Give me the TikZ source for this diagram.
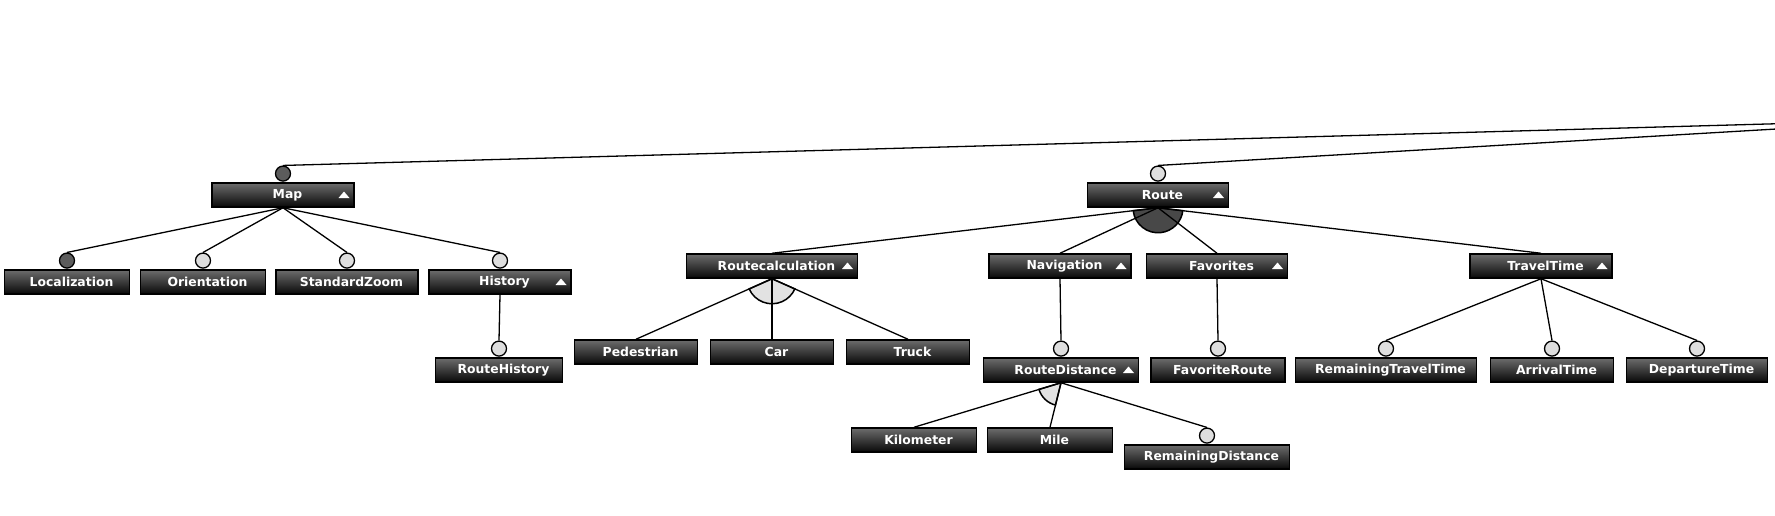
\documentclass[tikz,border=0pt]{standalone}
\usepackage{fontspec}
\setsansfont{DejaVu Sans}
\usepackage{tikz}
\usetikzlibrary{positioning,calc}
\definecolor{fmTop} {RGB}{108,108,108}
\definecolor{fmBot} {RGB}{  8,  8,  8}
\definecolor{fmMand}{RGB}{ 92, 92, 92}
\definecolor{fmOpt} {RGB}{222,222,222}
\definecolor{fmOr}  {RGB}{ 72, 72, 72}
\definecolor{fmAlt} {RGB}{226,226,226}

\begin{document}
\begin{tikzpicture}[x=1pt,y=1pt,
  every node/.style={font=\sffamily\bfseries\fontsize{12.4}{14}\selectfont},
  feat/.style={draw=black,line width=1.5pt,top color=fmTop,bottom color=fmBot,text=white,
               minimum width=125pt,minimum height=24pt,inner sep=0pt,
               execute at begin node={\hspace*{9pt}}},
  grp/.style={feat,path picture={\fill[white]
               ([xshift=-15.5pt,yshift=-3pt]path picture bounding box.east)
               -- ++(11pt,0) -- ++(-5.5pt,6.5pt) -- cycle;}},
  mand/.style={circle,draw=black,line width=1.3pt,fill=fmMand,minimum size=15pt,
               inner sep=0pt,above=0.5pt of #1},
  opt/.style={mand=#1,fill=fmOpt},
  link/.style={line width=1.3pt}
]
\useasboundingbox (0,0) rectangle (1775,-515);
\clip (0,0) rectangle (1775,-515);
\coordinate (root) at (1946,-119);
% Map branch
\node[grp,minimum width=142pt] (Map) at (283,-195) {Map};
\node[feat] (Loc) at (67,-282) {Localization};
\node[feat] (Ori) at (203,-282) {Orientation};
\node[feat,minimum width=142pt] (Zoom) at (347,-282) {StandardZoom};
\node[grp,minimum width=142pt] (Hist) at (500,-282) {History};
\node[feat,minimum width=127pt] (RHist) at (499,-370) {RouteHistory};
% Route branch
\node[grp,minimum width=141pt] (Route) at (1158,-195) {Route};
\node[grp,minimum width=171pt] (Calc) at (772,-266) {Routecalculation};
\node[feat,minimum width=123pt] (Ped) at (636,-352) {Pedestrian};
\node[feat,minimum width=123pt] (Car) at (772,-352) {Car};
\node[feat,minimum width=123pt] (Truck) at (908,-352) {Truck};
\node[grp,minimum width=142pt] (Nav) at (1060,-266) {Navigation};
\node[grp,minimum width=155pt] (RDist) at (1061,-370) {RouteDistance};
\node[feat] (Km) at (914,-440) {Kilometer};
\node[feat] (Mile) at (1050,-440) {Mile};
\node[feat,minimum width=165pt] (RemDist) at (1207,-457) {RemainingDistance};
\node[grp,minimum width=141pt] (Fav) at (1217,-266) {Favorites};
\node[feat,minimum width=134pt] (FavR) at (1218,-370) {FavoriteRoute};
\node[grp,minimum width=142pt] (Time) at (1541,-266) {TravelTime};
\node[feat,minimum width=181pt] (RemTime) at (1386,-370) {RemainingTravelTime};
\node[feat,minimum width=123pt] (Arr) at (1552,-370) {ArrivalTime};
\node[feat,minimum width=141pt] (Dep) at (1697,-370) {DepartureTime};
% mandatory / optional markers
\node[mand=Map] (MapC) {};
\node[opt=Route] (RouteC) {};
\node[mand=Loc] (LocC) {};
\node[opt=Ori] (OriC) {};
\node[opt=Zoom] (ZoomC) {};
\node[opt=Hist] (HistC) {};
\node[opt=RHist] (RHistC) {};
\node[opt=RDist] (RDistC) {};
\node[opt=RemDist] (RemDistC) {};
\node[opt=FavR] (FavRC) {};
\node[opt=RemTime] (RemTimeC) {};
\node[opt=Arr] (ArrC) {};
\node[opt=Dep] (DepC) {};
% group arcs: or (dark), alternative (light)
\filldraw[fill=fmOr,line width=1.5pt]
  let \p1=($(Calc.north)-(Route.south)$), \p2=($(Time.north)-(Route.south)$),
      \n1={atan2(\y1,\x1)}, \n2={atan2(\y2,\x2)} in
  (Route.south) -- ++(\n1:25pt) arc[start angle=\n1,end angle=\n2,radius=25pt] -- cycle;
\filldraw[fill=fmAlt,line width=1.5pt]
  let \p1=($(Ped.north)-(Calc.south)$), \p2=($(Truck.north)-(Calc.south)$),
      \n1={atan2(\y1,\x1)}, \n2={atan2(\y2,\x2)} in
  (Calc.south) -- ++(\n1:25pt) arc[start angle=\n1,end angle=\n2,radius=25pt] -- cycle;
\filldraw[fill=fmAlt,line width=1.5pt]
  let \p1=($(Km.north)-(RDist.south)$), \p2=($(Mile.north)-(RDist.south)$),
      \n1={atan2(\y1,\x1)}, \n2={atan2(\y2,\x2)} in
  (RDist.south) -- ++(\n1:23pt) arc[start angle=\n1,end angle=\n2,radius=23pt] -- cycle;
% links to the (off-page) root
\draw[link] (MapC.north) -- (root);
\draw[link] (RouteC.north) -- (root);
% Map links
\draw[link] (Map.south) -- (LocC.north);
\draw[link] (Map.south) -- (OriC.north);
\draw[link] (Map.south) -- (ZoomC.north);
\draw[link] (Map.south) -- (HistC.north);
\draw[link] (Hist.south) -- (RHistC.north);
% Route links
\draw[link] (Route.south) -- (Calc.north);
\draw[link] (Route.south) -- (Nav.north);
\draw[link] (Route.south) -- (Fav.north);
\draw[link] (Route.south) -- (Time.north);
\draw[link] (Calc.south) -- (Ped.north);
\draw[link] (Calc.south) -- (Car.north);
\draw[link] (Calc.south) -- (Truck.north);
\draw[link] (Nav.south) -- (RDistC.north);
\draw[link] (RDist.south) -- (Km.north);
\draw[link] (RDist.south) -- (Mile.north);
\draw[link] (RDist.south) -- (RemDistC.north);
\draw[link] (Fav.south) -- (FavRC.north);
\draw[link] (Time.south) -- (RemTimeC.north);
\draw[link] (Time.south) -- (ArrC.north);
\draw[link] (Time.south) -- (DepC.north);
\end{tikzpicture}
\end{document}
